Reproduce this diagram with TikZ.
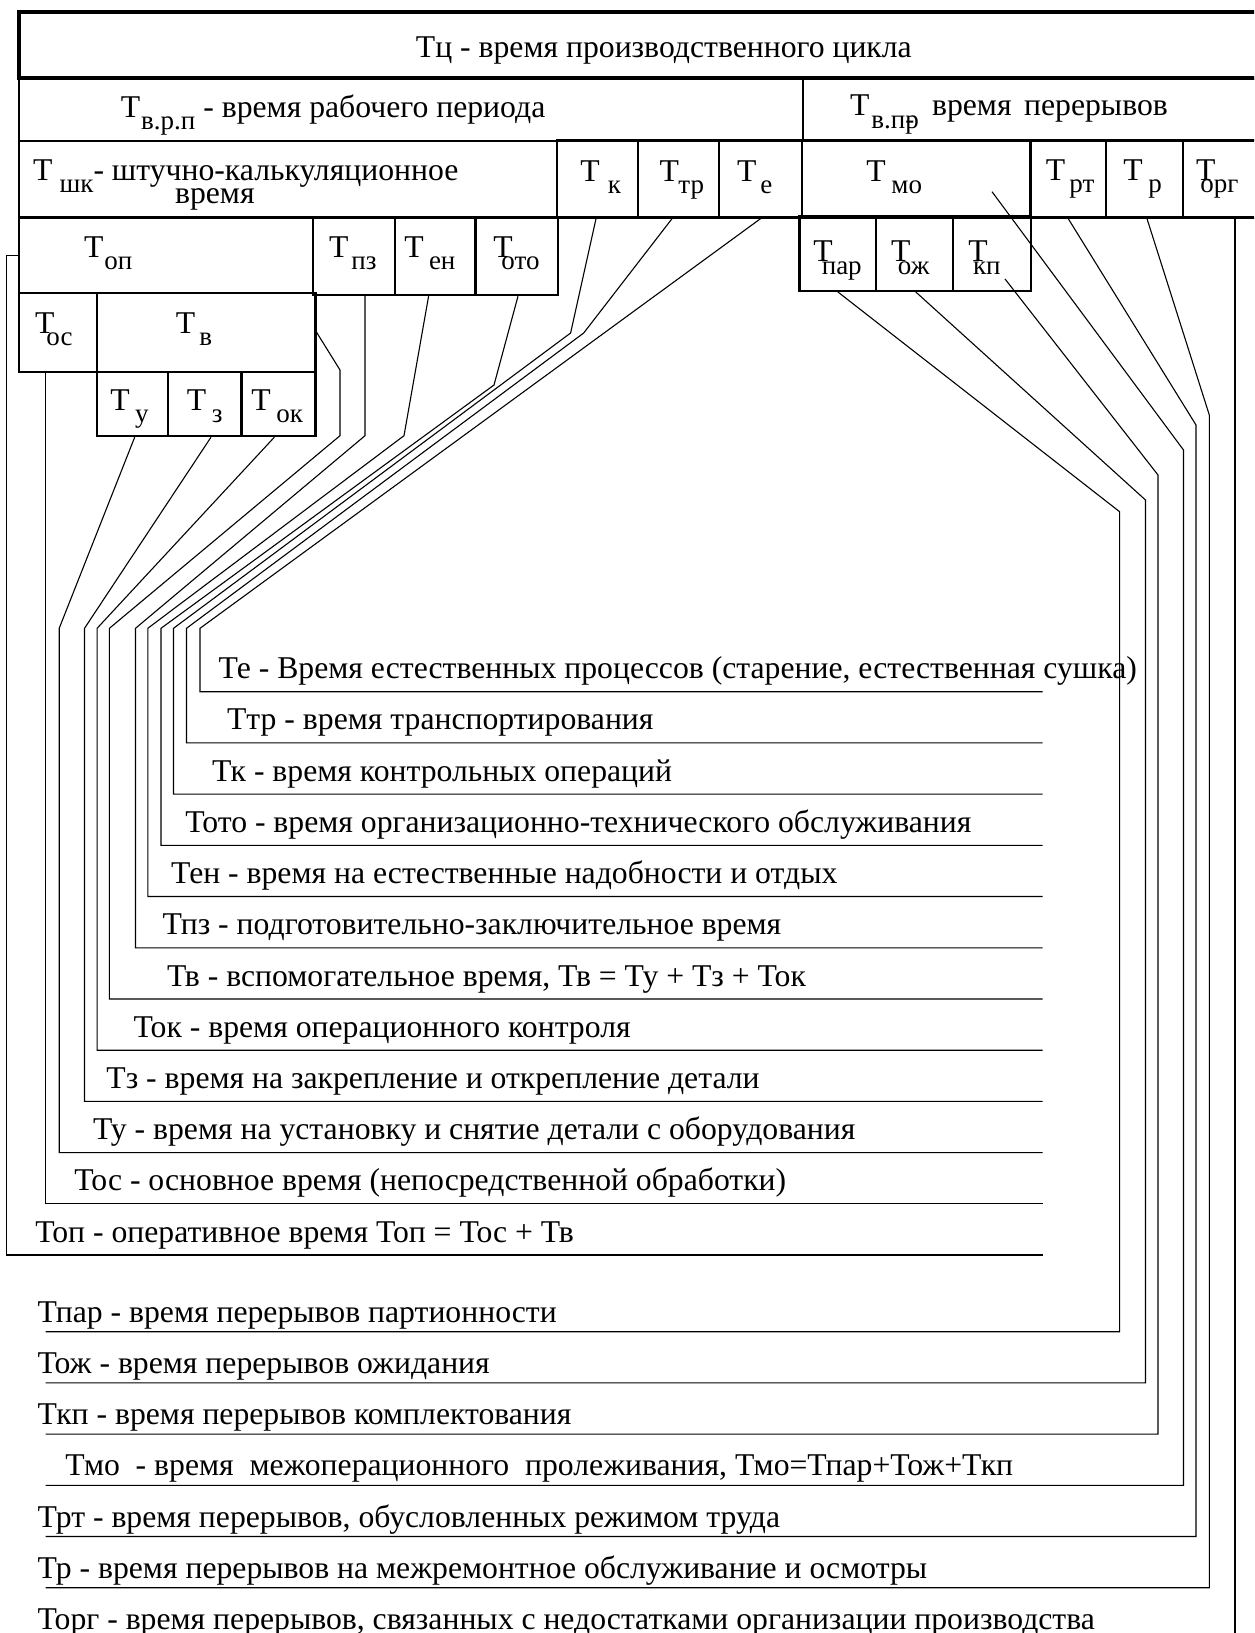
\documentclass[tikz,border=0pt]{standalone}
\usepackage{fontspec}
\setmainfont{Liberation Serif}
\usetikzlibrary{fit,calc}
\newcommand\mainf{\fontsize{15.85pt}{18pt}\selectfont}
\newcommand\subf{\fontsize{13.5pt}{14pt}\selectfont}
\newcommand\TS[2]{\rlap{Т}\kern#1pt\raisebox{-6.2pt}{\subf #2}}
\begin{document}
\begin{tikzpicture}[x=0.5pt,y=-0.5pt,
  box/.style={draw, line width=1.2pt, inner sep=0pt},
  bigbox/.style={draw, line width=2pt, inner sep=0pt},
  lead/.style={line width=0.55pt},
  lbl/.style={anchor=base west, inner sep=0pt, font=\mainf}]
\useasboundingbox (0,0) rectangle (1254,1633);
\fill[white] (0,0) rectangle (1254,1633);
\clip (0,0) rectangle (1254,1633);
% ---------- boxes ----------
\node[box, fit={(18.7,78.3) (802.7,141)}] (vrp) {};
\node[box, fit={(802.7,78.3) (1290,141)}] (vpr) {};
\node[box, fit={(18.7,141) (557,217.5)}] (tshk) {};
\node[box, fit={(557,140) (638,217.5)}] (tk) {};
\node[box, fit={(638,140) (719,217.5)}] (ttr) {};
\node[box, fit={(719,140) (802,217.5)}] (te) {};
\node[box, fit={(802,140) (1030.5,217.5)}] (tmo) {};
\node[box, fit={(1030.5,140) (1106,217.5)}] (trt) {};
\node[box, fit={(1106,140) (1183,217.5)}] (tr) {};
\node[box, fit={(1183,140) (1287,217.5)}] (torg) {};
\node[box, fit={(18.7,217.5) (313,293)}] (top) {};
\node[box, fit={(313,217) (395,295)}] (tpz) {};
\node[box, fit={(395,217) (475.5,295)}] (ten) {};
\node[box, fit={(475.5,217) (558,295)}] (toto) {};
\node[box, fit={(799.6,216) (876,290.7)}] (tpar) {};
\node[box, fit={(876,216) (953,290.7)}] (tozh) {};
\node[box, fit={(953,216) (1031,290.7)}] (tkp) {};
\node[box, fit={(19,293) (97,372)}] (tos) {};
\node[box, fit={(97,293) (315.5,372)}] (tv) {};
\node[box, fit={(97,372) (168,436)}] (ty) {};
\node[box, fit={(168,372) (241.6,436)}] (tz) {};
\node[box, fit={(241.6,372) (315.5,436)}] (tok) {};
\node[bigbox, fit={(18.7,11.7) (1290,78.3)}] (tc) {};
% ---------- box labels ----------
\node[lbl] (ltc) at (415.5,57.3) {Тц - время производственного цикла};
\node[lbl] (lvrp) at (120.4,117) {\TS{10.2}{в.р.п} - время рабочего периода};
\node[lbl] (lvpr) at (849.7,115.7) {\TS{10.65}{в.п\rlap{-}р}\kern6.6pt время\kern6.3pt перерывов};
\node[lbl] (lshk) at (32.7,180) {\TS{13.25}{шк}- штучно-калькуляционное};
\node[lbl] (lshkb) at (174.7,203) {время};
\node[lbl] (ltk) at (580,181) {\TS{13.7}{к}};
\node[lbl] (lttr) at (659.3,181) {\TS{9.35}{тр}};
\node[lbl] (lte) at (736.7,181) {\TS{11.65}{е}};
\node[lbl] (ltmo) at (866,181) {\TS{12.5}{мо}};
\node[lbl] (ltrt) at (1045.5,180) {\TS{11.75}{рт}};
\node[lbl] (ltr) at (1123,180) {\TS{12.5}{р}};
\node[lbl] (ltorg) at (1195.7,180) {\TS{2.15}{орг}};
\node[lbl] (ltop) at (83.7,257.3) {\TS{10.15}{оп}};
\node[lbl] (ltpz) at (328.6,257.3) {\TS{11.2}{пз}};
\node[lbl] (lten) at (404,257.3) {\TS{12.3}{ен}};
\node[lbl] (ltoto) at (493,257.3) {\TS{4}{ото}};
\node[lbl] (ltpar) at (813,261.7) {\TS{4.2}{пар}};
\node[lbl] (ltozh) at (890.6,261.7) {\TS{3.45}{ож}};
\node[lbl] (ltkp) at (968,261.7) {\TS{2.3}{кп}};
\node[lbl] (ltos) at (34.7,333.3) {\TS{5.65}{ос}};
\node[lbl] (ltv) at (175.5,333.3) {\TS{11.75}{в}};
\node[lbl] (lty) at (110,410) {\TS{12.35}{у}};
\node[lbl] (ltz) at (186.5,410) {\TS{12.45}{з}};
\node[lbl] (ltok) at (251,410) {\TS{12.5}{ок}};
% ---------- line ends ----------
\coordinate (eTe) at (1042.5,691.7);
\coordinate (eTtr) at (1042.5,742.9);
\coordinate (eTk) at (1042.5,794.1);
\coordinate (eToto) at (1042.5,845.3);
\coordinate (eTen) at (1042.5,896.5);
\coordinate (eTpz) at (1042.5,947.8);
\coordinate (eTv) at (1042.5,999.0);
\coordinate (eTok) at (1042.5,1050.2);
\coordinate (eTz) at (1042.5,1101.4);
\coordinate (eTy) at (1042.5,1152.6);
\coordinate (eTos) at (1042.5,1203.8);
\coordinate (eTop) at (1042.5,1255.0);
\coordinate (eTpar) at (45.7,1331.7);
\coordinate (eTozh) at (45.7,1382.9);
\coordinate (eTkp) at (45.7,1434.1);
\coordinate (eTmo) at (45.7,1485.3);
\coordinate (eTrt) at (45.7,1536.5);
\coordinate (eTr) at (45.7,1587.7);
\coordinate (eTorg) at (1235,1650);
% ---------- connectors ----------
\draw[lead] (top.west) -- ++(-10.7,0) |- (eTop);
\draw[lead] ($(tos.south)+(-12.3,0)$) |- (eTos);
\draw[lead] ($(ty.south)+(2.2,0)$) -- (59.2,628.3) |- (eTy);
\draw[lead] ($(tz.south)+(6.2,0)$) -- (84.5,628.3) |- (eTz);
\draw[lead] ($(tok.south)+(-4.2,0)$) -- (97.1,628.3) |- (eTok);
\draw[lead] (tv.east) -- (340,370) -- (340,435.7) -- (109.4,628.3) |- (eTv);
\draw[lead] ($(tpz.south)+(11,0)$) -- (365,435.7) -- (135.5,628.3) |- (eTpz);
\draw[lead] ($(ten.south)+(-6.65,0)$) -- (404,435.7) -- (147.8,628.3) |- (eTen);
\draw[lead] ($(toto.south)+(1.25,0)$) -- (494,385) -- (161,628.3) |- (eToto);
\draw[lead] ($(tk.south)+(-1.5,0)$) -- (570.6,333) -- (173.5,628.3) |- (eTk);
\draw[lead] ($(ttr.south)+(-6.5,0)$) -- (583.7,333) -- (186.5,628.3) |- (eTtr);
\draw[lead] (te.south) -- (200,628.3) |- (eTe);
\draw[lead] (tpar.south) -- (1119.6,511.7) |- (eTpar);
\draw[lead] ($(tozh.south)+(1.2,0)$) -- (1145.5,500) |- (eTozh);
\draw[lead] ($(tkp.center)+(13,25.6)$) -- (1158,475) |- (eTkp);
\draw[lead] ($(tmo.center)+(75.75,12.95)$) -- (1183.5,450) |- (eTmo);
\draw[lead] (trt.south) -- (1196,425) |- (eTrt);
\draw[lead] ($(tr.south)+(2.5,0)$) -- (1209.3,415) |- (eTr);
\draw[lead] (torg.south) -- (eTorg);
% ---------- legend texts ----------
\node[lbl] (dte) at (218.3,678.7) {Те - Время естественных процессов (старение, естественная сушка)};
\node[lbl] (dttr) at (226.7,729.9) {Ттр - время транспортирования};
\node[lbl] (dtk) at (211.7,781.1) {Тк - время контрольных операций};
\node[lbl] (dtoto) at (185,832.3) {Тото - время организационно-технического обслуживания};
\node[lbl] (dten) at (170.7,883.5) {Тен - время на естественные надобности и отдых};
\node[lbl] (dtpz) at (162.3,934.8) {Тпз - подготовительно-заключительное время};
\node[lbl] (dtv) at (166.7,986) {Тв - вспомогательное время, Тв = Ту + Тз + Ток};
\node[lbl] (dtok) at (133.3,1037.2) {Ток - время операционного контроля};
\node[lbl] (dtz) at (106,1088.4) {Тз - время на закрепление и открепление детали};
\node[lbl] (dty) at (92.7,1139.6) {Ту - время на установку и снятие детали с оборудования};
\node[lbl] (dtos) at (74,1190.8) {Тос - основное время (непосредственной обработки)};
\node[lbl] (dtop) at (35,1242) {Топ - оперативное время Топ = Тос + Тв};
\node[lbl] (dtpar) at (37.3,1322.2) {Тпар - время перерывов партионности};
\node[lbl] (dtozh) at (37.3,1373.4) {Тож - время перерывов ожидания};
\node[lbl] (dtkp) at (37.3,1424.6) {Ткп - время перерывов комплектования};
\node[lbl] (dtmo) at (65,1475.8) {Тмо\ \ - время\ \ межоперационного\ \ пролеживания, Тмо=Тпар+Тож+Ткп};
\node[lbl] (dtrt) at (37.3,1527) {Трт - время перерывов, обусловленных режимом труда};
\node[lbl] (dtr) at (37.3,1578.2) {Тр - время перерывов на межремонтное обслуживание и осмотры};
\node[lbl] (dtorg) at (37.3,1629) {Торг - время перерывов, связанных с недостатками организации производства};
\end{tikzpicture}
\end{document}
